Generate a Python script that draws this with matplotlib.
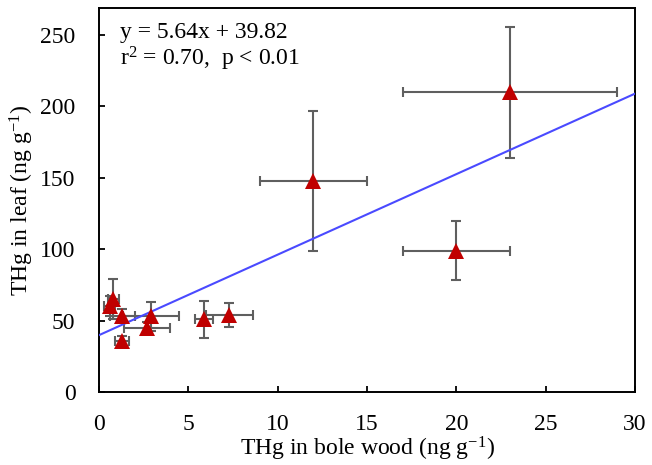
import matplotlib
matplotlib.use("Agg")
import matplotlib.pyplot as plt
import numpy as np

plt.rcParams['font.family'] = ['Liberation Serif', 'DejaVu Serif']
plt.rcParams['mathtext.fontset'] = 'custom'
plt.rcParams['mathtext.rm'] = 'Liberation Serif'
plt.rcParams['mathtext.it'] = 'Liberation Serif:italic'

# THg concentrations (mean and SD)
wood_thg = [0.6, 0.8, 1.3, 1.3, 2.7, 2.9, 5.9, 7.3, 12.0, 20.0, 23.0]
leaf_thg = [60, 65, 53, 36, 45, 53, 51, 54, 148, 99, 210]
wood_sd = [0.3, 0.3, 0.7, 0.4, 1.3, 1.55, 0.5, 1.3, 3.0, 3.0, 6.0]
leaf_sd = [7, 14, 5, 3, 4, 10, 13, 8.5, 49, 20.5, 46]

slope, intercept = 5.64, 39.82
r2_text = "0.70"
p_text = "0.01"

fig = plt.figure(figsize=(6.52, 4.65), dpi=100)
ax = fig.add_axes([99/652, 1 - 392/465, 536/652, 384/465])

ax.errorbar(wood_thg, leaf_thg, xerr=wood_sd, yerr=leaf_sd, fmt='none',
            ecolor='#5f5f5f', elinewidth=1.5, capsize=3.6, capthick=1.5, zorder=2)
xl = np.array([0, 30])
ax.plot(xl, slope * xl + intercept, color='#4a4aff', lw=1.5, zorder=3)
ax.plot(wood_thg, leaf_thg, linestyle='none', marker='^', markersize=11.5,
        color='#c00000', markeredgewidth=0, zorder=4)

ax.set_xlim(0, 30)
ax.set_ylim(0, 269)
ax.set_xticks(range(0, 31, 5))
ax.set_yticks(range(0, 251, 50))
ax.tick_params(direction='in', length=4, width=1.3, labelsize=17)
ax.tick_params(axis='x', pad=16)
ax.tick_params(axis='y', pad=17)
for s in ax.spines.values():
    s.set_linewidth(1.4)

ax.set_xlabel(r'THg in bole wood (ng g$^{\mathregular{-1}}$)', fontsize=17, labelpad=0)
ax.set_ylabel(r'THg in leaf (ng g$^{\mathregular{-1}}$)', fontsize=17, labelpad=3)

ax.text(0.04, 0.921, f'y = {slope:.2f}x + {intercept:.2f}', transform=ax.transAxes,
        fontsize=17, va='baseline', ha='left')
ax.text(0.04, 0.849, rf'r$^{{\mathregular{{2}}}}$ = {r2_text},  p < {p_text}', transform=ax.transAxes,
        fontsize=17, va='baseline', ha='left')

fig.savefig('out.png', dpi=100)
